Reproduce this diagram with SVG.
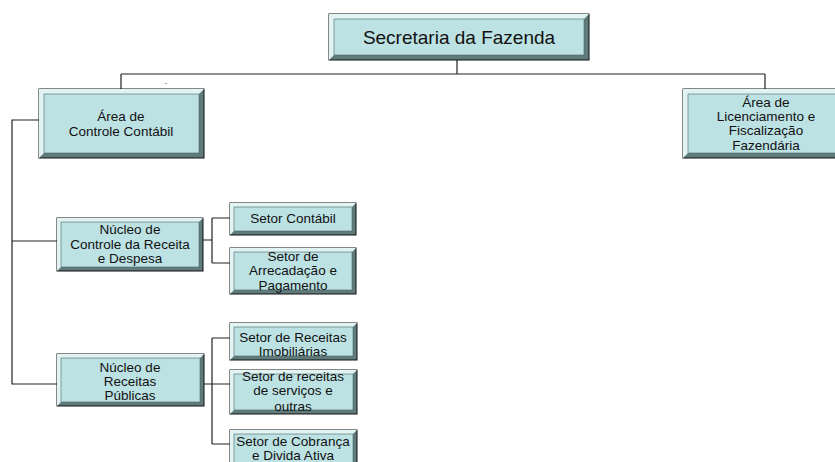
<svg xmlns="http://www.w3.org/2000/svg" width="835" height="462" viewBox="0 0 835 462">
<style>
.dk{fill:#5f7b7b;stroke:#111;stroke-width:1}
.lt{fill:#e2f3f3}
.fc{fill:#bde2e4;stroke:#4d6666;stroke-width:0.6}
text{font-family:"Liberation Sans",Arial,sans-serif;font-size:13.5px;fill:#111;text-anchor:middle}
.big{font-size:19px}
.ln{fill:none;stroke:#222;stroke-width:1.2}
</style>
<rect width="835" height="462" fill="#fff"/>
<g id="connectors" class="ln">
<path d="M457,60V74M121,74H765M121,74V89M765,74V89"/>
<path d="M39,120H12V384H57M12,241H57"/>
<path d="M203,240H212M212,218V263M212,218H230M212,263H230"/>
<path d="M204,384H212M212,338V444M212,338H230M212,384H230M212,444H230"/>
</g>
<g id="secretaria">
<rect class="dk" x="329" y="14" width="260" height="46"/>
<polygon class="lt" points="329,14 589,14 584,19 334,19 334,55 329,60"/>
<rect class="fc" x="334" y="19" width="250" height="36"/>
<text class="big" x="459" y="44">Secretaria da Fazenda</text>
</g>
<text x="166" y="84" style="font-size:9px">.</text>
<g id="area-controle">
<rect class="dk" x="39" y="89" width="165" height="69"/>
<polygon class="lt" points="39,89 204,89 199,94 44,94 44,153 39,158"/>
<rect class="fc" x="44" y="94" width="155" height="59"/>
<text x="121" y="121">Área de</text>
<text x="121" y="135.5">Controle Contábil</text>
</g>
<g id="area-licenciamento">
<rect class="dk" x="683" y="89" width="168" height="69"/>
<polygon class="lt" points="683,89 851,89 846,94 688,94 688,153 683,158"/>
<rect class="fc" x="688" y="94" width="158" height="59"/>
<text x="766" y="107">Área de</text>
<text x="766" y="121">Licenciamento e</text>
<text x="766" y="135">Fiscalização</text>
<text x="766" y="150">Fazendária</text>
</g>
<g id="nucleo-controle">
<rect class="dk" x="57" y="218" width="146" height="53"/>
<polygon class="lt" points="57,218 203,218 199,222 61,222 61,267 57,271"/>
<rect class="fc" x="61" y="222" width="138" height="45"/>
<text x="130" y="234">Núcleo de</text>
<text x="130" y="249">Controle da Receita</text>
<text x="130" y="263">e Despesa</text>
</g>
<g id="setor-contabil">
<rect class="dk" x="230" y="203" width="126" height="32"/>
<polygon class="lt" points="230,203 356,203 352,207 234,207 234,231 230,235"/>
<rect class="fc" x="234" y="207" width="118" height="24"/>
<text x="293" y="223">Setor Contábil</text>
</g>
<g id="setor-arrecadacao">
<rect class="dk" x="230" y="248" width="126" height="46"/>
<polygon class="lt" points="230,248 356,248 352,252 234,252 234,290 230,294"/>
<rect class="fc" x="234" y="252" width="118" height="38"/>
<text x="293" y="261">Setor de</text>
<text x="293" y="275">Arrecadação e</text>
<text x="293" y="290">Pagamento</text>
</g>
<g id="nucleo-receitas">
<rect class="dk" x="57" y="354" width="147" height="52"/>
<polygon class="lt" points="57,354 204,354 200,358 61,358 61,402 57,406"/>
<rect class="fc" x="61" y="358" width="139" height="44"/>
<text x="130" y="372">Núcleo de</text>
<text x="130" y="386">Receitas</text>
<text x="130" y="400">Públicas</text>
</g>
<g id="setor-imobiliarias">
<rect class="dk" x="230" y="323" width="127" height="37"/>
<polygon class="lt" points="230,323 357,323 353,327 234,327 234,356 230,360"/>
<rect class="fc" x="234" y="327" width="119" height="29"/>
<text x="293" y="342">Setor de Receitas</text>
<text x="293" y="356">Imobiliárias</text>
</g>
<g id="setor-servicos">
<rect class="dk" x="230" y="370" width="127" height="44"/>
<polygon class="lt" points="230,370 357,370 353,374 234,374 234,410 230,414"/>
<rect class="fc" x="234" y="374" width="119" height="36"/>
<text x="293" y="381">Setor de receitas</text>
<text x="293" y="395">de serviços e</text>
<text x="293" y="411">outras</text>
</g>
<g id="setor-cobranca">
<rect class="dk" x="230" y="430" width="127" height="40"/>
<polygon class="lt" points="230,430 357,430 353,434 234,434 234,466 230,470"/>
<rect class="fc" x="234" y="434" width="119" height="32"/>
<text x="293" y="446">Setor de Cobrança</text>
<text x="293" y="459.5">e Divida Ativa</text>
</g>
</svg>
